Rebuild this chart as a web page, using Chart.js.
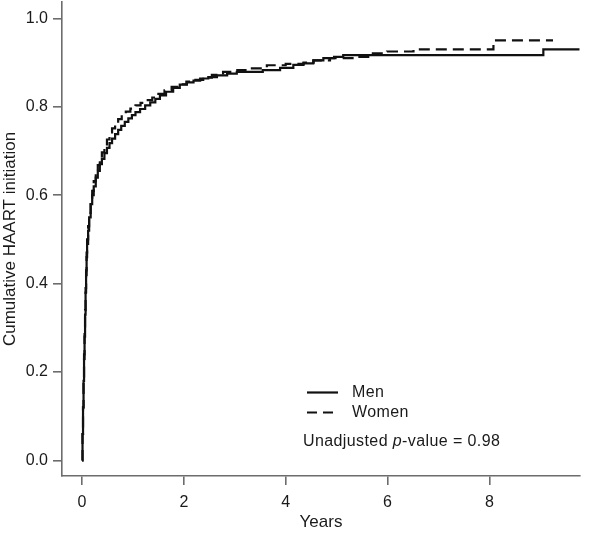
<!DOCTYPE html>
<html>
<head>
<meta charset="utf-8">
<script src="https://cdn.jsdelivr.net/npm/chart.js@4/dist/chart.umd.min.js"></script>
<style>
html,body{margin:0;padding:0;background:#fff;}
#wrap{width:600px;height:533px;}
</style>
</head>
<body>
<div id="wrap"><canvas id="c" width="600" height="533"></canvas></div>
<script>
// ---- data ----
const menTime = [0,0.01,0.02,0.03,0.04,0.05,0.06,0.07,0.08,0.09,0.10,0.12,0.14,0.17,0.20,0.23,0.27,0.31,0.35,0.39,0.44,0.49,0.54,0.59,0.65,0.71,0.77,0.84,0.91,0.98,1.05,1.14,1.24,1.34,1.44,1.53,1.65,1.79,1.92,2.06,2.19,2.32,2.48,2.65,2.85,3.04,3.55,3.89,4.15,4.35,4.54,4.74,4.95,5.13,9.06,9.77];
const menCum  = [0,0.06,0.12,0.18,0.23,0.28,0.33,0.38,0.42,0.46,0.49,0.52,0.55,0.58,0.60,0.62,0.64,0.655,0.67,0.682,0.695,0.707,0.718,0.728,0.738,0.748,0.757,0.766,0.774,0.781,0.788,0.795,0.803,0.810,0.818,0.826,0.834,0.843,0.850,0.855,0.859,0.864,0.867,0.871,0.875,0.879,0.883,0.888,0.895,0.898,0.905,0.910,0.913,0.917,0.930,0.930];
const womenTime = [0,0.01,0.02,0.03,0.04,0.05,0.06,0.07,0.08,0.09,0.10,0.12,0.14,0.17,0.20,0.23,0.27,0.31,0.35,0.39,0.44,0.49,0.54,0.59,0.65,0.71,0.78,0.86,0.95,1.05,1.15,1.26,1.38,1.50,1.62,1.76,1.90,2.05,2.20,2.38,2.55,2.77,3.05,3.30,3.63,4.00,4.35,4.55,4.87,5.40,5.66,5.99,6.51,8.08,9.25];
const womenCum  = [0,0.06,0.12,0.18,0.24,0.29,0.34,0.39,0.43,0.47,0.50,0.53,0.56,0.59,0.61,0.632,0.652,0.668,0.683,0.697,0.712,0.726,0.739,0.751,0.762,0.772,0.781,0.789,0.796,0.803,0.809,0.815,0.821,0.829,0.837,0.845,0.851,0.857,0.861,0.866,0.872,0.879,0.883,0.887,0.894,0.897,0.900,0.905,0.910,0.913,0.921,0.925,0.930,0.950,0.950];
const seriesNames = ['Men','Women'];
const xTicks = [0,2,4,6,8];
const yTicks = [0,0.2,0.4,0.6,0.8,1.0];
const xTitle = 'Years';
const yTitle = 'Cumulative HAART initiation';
const pNote = ['Unadjusted ', 'p', '-value = 0.98'];

const FONT = "'Liberation Sans', Arial, Helvetica, sans-serif";
const INK = '#111';
const TXT = '#1a1a1a';
const AXIS = '#6c6c6c';

function toPts(t, v){ return t.map((x,i)=>({x:x, y:v[i]})); }

const spacingPlugin = {
  id: 'spacing',
  beforeInit(chart){ chart.ctx.letterSpacing = '0.4px'; }
};

const legendPlugin = {
  id: 'inlineLegend',
  afterDraw(chart){
    const ctx = chart.ctx;
    ctx.save();
    ctx.strokeStyle = INK;
    ctx.lineWidth = 2.2;
    ctx.beginPath(); ctx.setLineDash([]);
    ctx.moveTo(307, 392.5); ctx.lineTo(338, 392.5); ctx.stroke();
    ctx.beginPath(); ctx.setLineDash([10,6]);
    ctx.moveTo(307, 412.5); ctx.lineTo(338, 412.5); ctx.stroke();
    ctx.setLineDash([]);
    ctx.fillStyle = TXT;
    ctx.textBaseline = 'middle';
    ctx.textAlign = 'left';
    ctx.letterSpacing = '0.4px';
    ctx.font = '16px ' + FONT;
    ctx.fillText(seriesNames[0], 352, 392.5);
    ctx.fillText(seriesNames[1], 352, 412.5);
    let x = 303;
    ctx.fillText(pNote[0], x, 441.5); x += ctx.measureText(pNote[0]).width;
    ctx.font = 'italic 16px ' + FONT;
    ctx.fillText(pNote[1], x, 441.5); x += ctx.measureText(pNote[1]).width;
    ctx.font = '16px ' + FONT;
    ctx.fillText(pNote[2], x, 441.5);
    ctx.restore();
  }
};

Chart.defaults.font.family = FONT;

new Chart(document.getElementById('c'), {
  type: 'scatter',
  data: {
    datasets: [
      { label: seriesNames[0], data: toPts(menTime, menCum), showLine: true, stepped: true,
        borderColor: INK, borderWidth: 2.2, pointRadius: 0, fill: false },
      { label: seriesNames[1], data: toPts(womenTime, womenCum), showLine: true, stepped: true,
        borderColor: INK, borderWidth: 2.2, borderDash: [11,6], pointRadius: 0, fill: false }
    ]
  },
  options: {
    responsive: false,
    animation: false,
    devicePixelRatio: 1,
    layout: { padding: { left: 0, right: 20, top: 2, bottom: 0 } },
    plugins: { legend: { display: false }, tooltip: { enabled: false } },
    scales: {
      x: {
        type: 'linear', min: -0.393, max: 9.78,
        afterBuildTicks: s => { s.ticks = xTicks.map(v => ({ value: v })); },
        afterFit: s => { s.height = 57; s.paddingLeft = 0; s.paddingRight = 0; },
        ticks: { callback: v => String(v), color: TXT, font: { size: 16 }, padding: 8, maxRotation: 0, autoSkip: false },
        grid: { drawOnChartArea: false, drawTicks: true, tickLength: 9, color: AXIS, lineWidth: 1.6 },
        border: { display: true, color: AXIS, width: 1.6 },
        title: { display: true, text: xTitle, color: TXT, font: { size: 17 }, padding: { top: 0, bottom: 0 } }
      },
      y: {
        type: 'linear', min: -0.035, max: 1.037,
        afterBuildTicks: s => { s.ticks = yTicks.map(v => ({ value: v })); },
        afterFit: s => { s.width = 62; s.paddingTop = 0; s.paddingBottom = 0; },
        ticks: { callback: v => Number(v).toFixed(1), color: TXT, font: { size: 16 }, padding: 5, autoSkip: false },
        grid: { drawOnChartArea: false, drawTicks: true, tickLength: 9, color: AXIS, lineWidth: 1.6 },
        border: { display: true, color: AXIS, width: 1.6 },
        title: { display: true, text: yTitle, color: TXT, font: { size: 17 }, padding: { top: 0, bottom: 0 } }
      }
    }
  },
  plugins: [spacingPlugin, legendPlugin]
});
</script>
</body>
</html>
